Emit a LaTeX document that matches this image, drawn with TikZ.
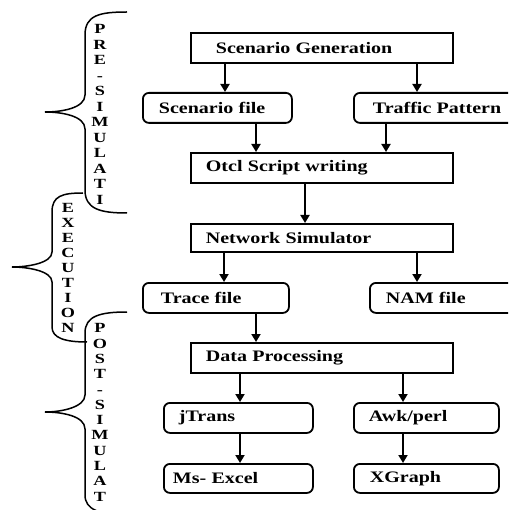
\documentclass[tikz,border=0pt]{standalone}
\usepackage{fontspec}
\setmainfont{Liberation Serif}
\newfontfamily\boxfont{Liberation Serif}[FakeStretch=1.25]
\newfontfamily\letterfont{Liberation Serif}[FakeStretch=1.3]
\usetikzlibrary{arrows.meta}
\begin{document}
\begin{tikzpicture}[x=1pt,y=-1pt,
  sq/.style={draw, line width=1.8pt, anchor=north west, inner ysep=0pt, align=left,
    font=\boxfont\bfseries\fontsize{16}{18}\selectfont},
  rd/.style={sq, rounded corners=6pt},
  arr/.style={line width=1.8pt, -{Triangle[width=9pt,length=8pt]}},
  bracepath/.style={line width=1.5pt},
  stack/.style={align=center, anchor=north, inner sep=0pt}]
\useasboundingbox (0,0) rectangle (508,510);
\clip (0,0) rectangle (508,510);

% boxes
\node[sq, minimum width=262pt, minimum height=30pt, inner xsep=25pt, text width=212pt] (sg) at (190,32) {Scenario Generation};
\node[rd, minimum width=149pt, minimum height=30pt, inner xsep=16pt, text width=117pt] (sf) at (142,92) {Scenario file};
\node[rd, minimum width=170pt, minimum height=30pt, inner xsep=19pt, text width=132pt] (tp) at (353,92) {Traffic Pattern};
\node[sq, minimum width=262pt, minimum height=30pt, inner xsep=15pt, text width=232pt] (otcl) at (190,152) {Otcl Script writing};
\node[sq, minimum width=262pt, minimum height=28pt, inner xsep=15pt, text width=232pt] (ns) at (190,223) {Network Simulator};
\node[rd, minimum width=146pt, minimum height=30pt, inner xsep=18pt, text width=110pt] (tf) at (142,282) {Trace file};
\node[rd, minimum width=160pt, minimum height=30pt, inner xsep=16pt, text width=128pt] (nam) at (369,282) {NAM file};
\node[sq, minimum width=262pt, minimum height=30pt, inner xsep=15pt, text width=232pt] (dp) at (190,342) {Data Processing};
\node[rd, minimum width=149pt, minimum height=30pt, inner xsep=15pt, text width=119pt] (jt) at (163,402) {jTrans};
\node[rd, minimum width=145pt, minimum height=30pt, inner xsep=15pt, text width=115pt] (awk) at (353,402) {Awk/perl};
\node[rd, minimum width=149pt, minimum height=29pt, inner xsep=9pt, text width=131pt] (ms) at (163,463) {Ms- Excel};
\node[rd, minimum width=145pt, minimum height=29pt, inner xsep=16pt, text width=113pt] (xg) at (353,463) {XGraph};

% arrows
\draw[arr] ([xshift=35pt]sg.south west) -- ([xshift=35pt]sg.south west |- sf.north);
\draw[arr] ([xshift=227pt]sg.south west) -- ([xshift=227pt]sg.south west |- tp.north);
\draw[arr] ([xshift=114pt]sf.south west) -- ([xshift=114pt]sf.south west |- otcl.north);
\draw[arr] ([xshift=33pt]tp.south west) -- ([xshift=33pt]tp.south west |- otcl.north);
\draw[arr] ([xshift=115pt]otcl.south west) -- ([xshift=115pt]otcl.south west |- ns.north);
\draw[arr] ([xshift=34pt]ns.south west) -- ([xshift=34pt]ns.south west |- tf.north);
\draw[arr] ([xshift=227pt]ns.south west) -- ([xshift=227pt]ns.south west |- nam.north);
\draw[arr] ([xshift=114pt]tf.south west) -- ([xshift=114pt]tf.south west |- dp.north);
\draw[arr] ([xshift=50pt]dp.south west) -- ([xshift=50pt]dp.south west |- jt.north);
\draw[arr] ([xshift=213pt]dp.south west) -- ([xshift=213pt]dp.south west |- awk.north);
\draw[arr] ([xshift=77pt]jt.south west) -- ([xshift=77pt]jt.south west |- ms.north);
\draw[arr] ([xshift=50pt]awk.south west) -- ([xshift=50pt]awk.south west |- xg.north);

% braces
\draw[bracepath] (127,12) .. controls (100,12) and (85,15) .. (85,35) -- (85,95)
  .. controls (85,108) and (62,112) .. (45,112)
  .. controls (62,112) and (85,116) .. (85,129) -- (85,190)
  .. controls (85,209) and (100,213) .. (127,213);
\draw[bracepath] (83,193) .. controls (62,193) and (52,196) .. (52,212) -- (52,252)
  .. controls (52,263) and (28,267) .. (12,267)
  .. controls (28,267) and (52,271) .. (52,282) -- (52,327)
  .. controls (52,338) and (65,342) .. (87,342);
\draw[bracepath] (127,312) .. controls (100,312) and (85,316) .. (85,333) -- (85,395)
  .. controls (85,407) and (62,412) .. (45,412)
  .. controls (62,412) and (85,416) .. (85,429) -- (85,495)
  .. controls (85,510) and (100,514) .. (125,516);

% vertical labels
\node[stack, font=\letterfont\bfseries\fontsize{14}{15.5}\selectfont] (pre) at (100,24.5)
  {P\\R\\E\\-\\S\\I\\M\\U\\L\\A\\T\\I};
\node[stack, font=\letterfont\bfseries\fontsize{14}{15}\selectfont] (exe) at (68,203.5)
  {E\\X\\E\\C\\U\\T\\I\\O\\N};
\node[stack, font=\letterfont\bfseries\fontsize{14}{15.3}\selectfont] (post) at (100,323.5)
  {P\\O\\S\\T\\-\\S\\I\\M\\U\\L\\A\\T};
\end{tikzpicture}
\end{document}
